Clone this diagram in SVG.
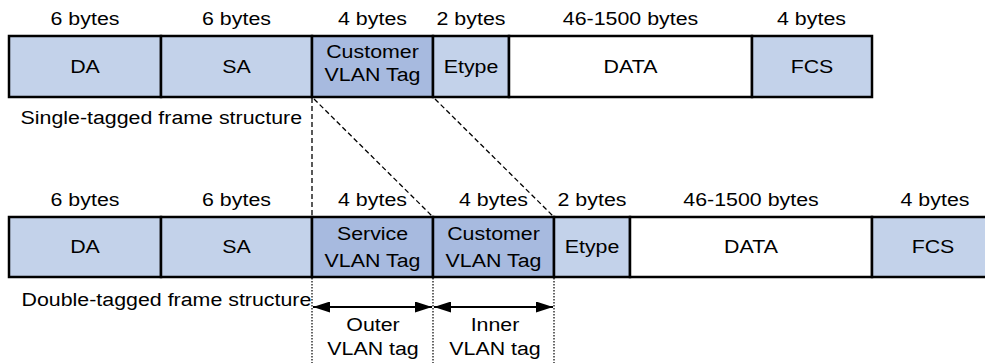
<svg xmlns="http://www.w3.org/2000/svg" width="985" height="363" viewBox="0 0 985 363">
<style>
text{font-family:"Liberation Sans",Arial,sans-serif;font-size:19px;fill:#000;text-anchor:middle}
.l{text-anchor:start}
.f{fill:#c3d2ea;stroke:#000;stroke-width:2.5}
.t{fill:#a7badf;stroke:#000;stroke-width:2.5}
.w{fill:#fff;stroke:#000;stroke-width:2.5}
.dash{stroke:#000;stroke-width:1.3;stroke-dasharray:5 3;fill:none}
.dot{stroke:#000;stroke-width:1.2;stroke-dasharray:1.5 1.5;fill:none}
.arr{stroke:#000;stroke-width:2;fill:none;marker-start:url(#ah);marker-end:url(#ah)}
</style>
<defs>
<marker id="ah" viewBox="0 0 17 11" refX="17" refY="5.5" markerWidth="17" markerHeight="11" markerUnits="userSpaceOnUse" orient="auto-start-reverse">
<path d="M0,0 L17,5.5 L0,11 z" fill="#000"/>
</marker>
</defs>

<g id="connectors">
<line class="dash" x1="312" y1="98" x2="312" y2="217"/>
<line class="dash" x1="314" y1="99" x2="432" y2="216"/>
<line class="dash" x1="435" y1="99" x2="553" y2="216"/>
<line class="dot" x1="312" y1="278" x2="312" y2="363"/>
<line class="dot" x1="433" y1="278" x2="433" y2="363"/>
<line class="dot" x1="554" y1="278" x2="554" y2="363"/>
<line class="arr" x1="313" y1="307" x2="432" y2="307"/>
<line class="arr" x1="434" y1="307" x2="553" y2="307"/>
</g>

<g id="single">
<g id="s-da"><rect class="f" x="9" y="36" width="152" height="61"/><text transform="translate(85,25) scale(1.125,1)">6 bytes</text><text transform="translate(85,73) scale(1.125,1)">DA</text></g>
<g id="s-sa"><rect class="f" x="161" y="36" width="151" height="61"/><text transform="translate(236.5,25) scale(1.125,1)">6 bytes</text><text transform="translate(236.5,73) scale(1.125,1)">SA</text></g>
<g id="s-ctag"><rect class="t" x="312" y="36" width="121" height="61"/><text transform="translate(372.5,25) scale(1.125,1)">4 bytes</text><text transform="translate(372.5,57.5) scale(1.125,1)">Customer</text><text transform="translate(372.5,81) scale(1.125,1)">VLAN Tag</text></g>
<g id="s-etype"><rect class="f" x="433" y="36" width="76" height="61"/><text transform="translate(471,25) scale(1.125,1)">2 bytes</text><text transform="translate(471,73) scale(1.125,1)">Etype</text></g>
<g id="s-data"><rect class="w" x="509" y="36" width="243" height="61"/><text transform="translate(630.5,25) scale(1.125,1)">46-1500 bytes</text><text transform="translate(630.5,73) scale(1.125,1)">DATA</text></g>
<g id="s-fcs"><rect class="f" x="752" y="36" width="120" height="61"/><text transform="translate(811.5,25) scale(1.125,1)">4 bytes</text><text transform="translate(812,73) scale(1.125,1)">FCS</text></g>
<text class="l" transform="translate(20.5,124) scale(1.125,1)">Single-tagged frame structure</text>
</g>

<g id="double">
<g id="d-da"><rect class="f" x="9" y="217" width="152" height="60"/><text transform="translate(85,206) scale(1.125,1)">6 bytes</text><text transform="translate(85,253) scale(1.125,1)">DA</text></g>
<g id="d-sa"><rect class="f" x="161" y="217" width="151" height="60"/><text transform="translate(236.5,206) scale(1.125,1)">6 bytes</text><text transform="translate(236.5,253) scale(1.125,1)">SA</text></g>
<g id="d-stag"><rect class="t" x="312" y="217" width="121" height="60"/><text transform="translate(372.5,206) scale(1.125,1)">4 bytes</text><text transform="translate(372.5,240) scale(1.125,1)">Service</text><text transform="translate(372.5,267) scale(1.125,1)">VLAN Tag</text></g>
<g id="d-ctag"><rect class="t" x="433" y="217" width="121" height="60"/><text transform="translate(493.5,206) scale(1.125,1)">4 bytes</text><text transform="translate(493.5,240) scale(1.125,1)">Customer</text><text transform="translate(493.5,267) scale(1.125,1)">VLAN Tag</text></g>
<g id="d-etype"><rect class="f" x="554" y="217" width="76" height="60"/><text transform="translate(592,206) scale(1.125,1)">2 bytes</text><text transform="translate(592,253) scale(1.125,1)">Etype</text></g>
<g id="d-data"><rect class="w" x="630" y="217" width="242" height="60"/><text transform="translate(751,206) scale(1.125,1)">46-1500 bytes</text><text transform="translate(751,253) scale(1.125,1)">DATA</text></g>
<g id="d-fcs"><rect class="f" x="872" y="217" width="125" height="60"/><text transform="translate(935,206) scale(1.125,1)">4 bytes</text><text transform="translate(933,253) scale(1.125,1)">FCS</text></g>
<text class="l" transform="translate(21.5,306) scale(1.125,1)">Double-tagged frame structure</text>
</g>

<g id="outer-label"><text transform="translate(373,331) scale(1.125,1)">Outer</text><text transform="translate(373,355) scale(1.125,1)">VLAN tag</text></g>
<g id="inner-label"><text transform="translate(495,331) scale(1.125,1)">Inner</text><text transform="translate(495,355) scale(1.125,1)">VLAN tag</text></g>
</svg>
